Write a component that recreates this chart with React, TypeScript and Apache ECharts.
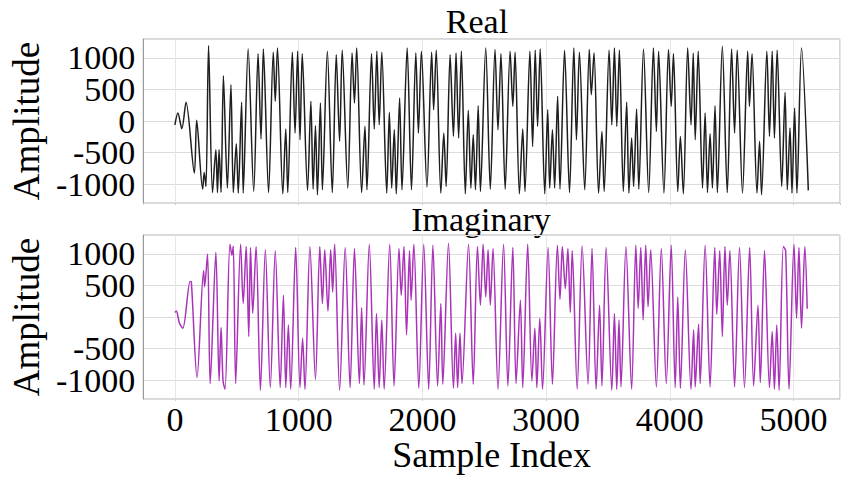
import React, { useEffect, useRef } from "react";
import * as echarts from "echarts";

// Real part: sample index / amplitude (extrema)
const realIdx = [0, 24, 56, 90, 157, 176, 224, 237, 251, 272, 304, 331, 344, 357, 373, 392, 424, 453, 472, 496, 512, 539, 552, 592, 637, 672, 696, 715, 757, 795, 811, 829, 872, 896, 912, 949, 971, 992, 1011, 1029, 1072, 1099, 1117, 1136, 1152, 1176, 1192, 1232, 1272, 1304, 1331, 1352, 1397, 1432, 1451, 1469, 1509, 1536, 1552, 1589, 1611, 1632, 1651, 1672, 1712, 1733, 1752, 1773, 1789, 1816, 1835, 1877, 1912, 1947, 1968, 1992, 2037, 2075, 2091, 2112, 2149, 2173, 2192, 2224, 2251, 2272, 2293, 2315, 2347, 2371, 2392, 2411, 2429, 2451, 2469, 2512, 2549, 2587, 2611, 2635, 2669, 2709, 2731, 2749, 2784, 2811, 2829, 2869, 2891, 2912, 2931, 2952, 2989, 3013, 3029, 3051, 3069, 3093, 3112, 3149, 3189, 3224, 3245, 3269, 3312, 3349, 3365, 3387, 3424, 3451, 3469, 3509, 3531, 3552, 3571, 3592, 3624, 3651, 3669, 3691, 3707, 3731, 3749, 3787, 3829, 3867, 3891, 3909, 3952, 3989, 4011, 4029, 4064, 4085, 4109, 4144, 4171, 4189, 4205, 4229, 4264, 4285, 4304, 4325, 4344, 4365, 4384, 4424, 4464, 4499, 4523, 4544, 4587, 4629, 4643, 4664, 4704, 4725, 4741, 4784, 4805, 4827, 4845, 4867, 4904, 4931, 4949, 4971, 4987, 5008, 5027, 5064, 5119];
const realAmp = [-60, 126, -122, 296, -826, 10, -1080, -815, -1037, 1195, -1133, -456, -1133, -456, -1133, 719, -1064, 576, -1133, -360, -1143, 296, -1143, 1142, -1117, 1068, -286, 1142, -1133, 1089, 312, 1158, -1154, -127, -1133, 1089, -191, 1105, -297, 1068, -1101, 312, -1080, -74, -1170, 285, -1090, 1105, -1133, 1052, -323, 1121, -1064, 1079, 285, 1158, -1133, -85, -1090, 1068, -127, 1105, -59, 1089, -1143, 137, -1064, -138, -1154, 364, -1090, 1158, -1090, 1079, -191, 1105, -1048, 1089, 179, 1121, -1143, -191, -1037, 1052, -244, 1079, -270, 1105, -1154, 169, -1064, -217, -1090, 243, -1117, 1158, -1080, 1132, -138, 1068, -1080, 1105, 232, 1089, -1154, -127, -1117, 1105, -403, 1121, -85, 1142, -1154, 179, -1064, -138, -1064, 391, -1080, 1121, -1133, 1158, -297, 1089, -1090, 1132, 417, 1079, -1143, -165, -1117, 1121, -59, 1158, -85, 1121, -1117, 296, -1143, -270, -1037, 190, -1080, 1142, -1133, 1158, -165, 1105, -1143, 1132, 232, 1068, -1117, -244, -1154, 1158, -59, 1079, -297, 1105, -1064, 126, -1133, -201, -1064, 243, -1133, 1184, -1133, 1142, -191, 1121, -1143, 1105, 232, 1068, -1143, -323, -1170, 1105, -244, 1105, -270, 1121, -1037, 454, -1090, -112, -1143, 206, -1143, 1158, -1100];

// Imaginary part: sample index / amplitude
const imagIdx = [0, 11, 37, 64, 123, 133, 179, 232, 240, 264, 285, 331, 357, 373, 389, 405, 445, 461, 472, 491, 531, 552, 576, 597, 611, 629, 656, 691, 731, 771, 811, 851, 877, 896, 917, 936, 976, 1011, 1032, 1051, 1091, 1136, 1171, 1192, 1211, 1237, 1259, 1275, 1291, 1331, 1376, 1416, 1451, 1491, 1509, 1528, 1571, 1611, 1629, 1651, 1672, 1691, 1736, 1771, 1811, 1829, 1851, 1872, 1896, 1909, 1931, 1971, 2011, 2051, 2085, 2123, 2149, 2165, 2211, 2251, 2269, 2285, 2304, 2320, 2373, 2411, 2445, 2469, 2491, 2512, 2531, 2549, 2571, 2611, 2656, 2691, 2731, 2757, 2792, 2811, 2851, 2885, 2909, 2925, 2949, 2971, 3016, 3051, 3091, 3112, 3131, 3155, 3176, 3195, 3211, 3251, 3291, 3339, 3371, 3404, 3432, 3451, 3485, 3531, 3552, 3571, 3589, 3605, 3645, 3691, 3725, 3744, 3765, 3784, 3805, 3824, 3845, 3891, 3931, 3971, 4011, 4043, 4064, 4085, 4125, 4171, 4192, 4205, 4232, 4245, 4285, 4325, 4363, 4379, 4403, 4424, 4445, 4464, 4485, 4523, 4563, 4603, 4645, 4677, 4712, 4731, 4765, 4805, 4827, 4845, 4864, 4883, 4917, 4936, 4963, 5003, 5024, 5043, 5064, 5091, 5110];
const imagAmp = [73, 94, -99, -178, 564, 554, -961, 737, 480, 998, -1055, 1024, -1014, -167, -1014, -1144, 1155, 980, 1120, -1055, 1155, 214, 1118, -308, 1102, 57, 1118, -1160, 1066, -1118, 1050, -1118, 345, -1118, -126, -1144, 1102, -1118, -335, -1144, 1118, -988, 1118, 214, 1066, 94, 1066, 397, 1155, -1160, 1102, -1118, 1087, -1055, 146, -1080, 1155, -1144, 57, -1118, -47, -1144, 1155, -1092, 1087, 345, 1118, -282, 1050, 266, 1155, -1129, 1155, -1144, 1139, -1092, 214, -1066, 1170, -1129, -256, -1118, -256, -1055, 1155, -1066, 1118, 188, 1155, 319, 1066, 188, 1087, -1144, 1155, -1092, 1102, -1055, 266, -1118, 1155, -1014, -178, -1118, -21, -1144, 1102, -1066, 1139, 282, 1118, 450, 1087, 73, 1050, -1144, 1129, -1066, 1087, -1144, 188, -1092, 1102, -1160, 57, -1144, -47, -1108, 1118, -1144, 1139, 136, 1102, -47, 1139, 162, 1066, -1108, 1087, -1055, 1139, -1118, 319, -1129, 1066, -1144, -204, -1108, -115, -1055, 1139, -1108, 1102, 42, 1050, -308, 1118, 188, 1050, -1108, 1100, -1118, 1102, -1092, 188, -1040, 1050, -1118, -230, -1144, -126, -1160, 1118, 1050, -1144, 1155, -21, 1102, -178, 1118, 130];

const yTicks = [-1000, -500, 0, 500, 1000];
const xTicks = [0, 1000, 2000, 3000, 4000, 5000];
const panelTitles = ["Real", "Imaginary"];
const xName = "Sample Index";
const yName = "Amplitude";

const FONT = "Liberation Serif";

export default function App() {
  const ref = useRef<HTMLDivElement>(null);
  useEffect(() => {
    if (!ref.current) return;
    const chart = echarts.init(ref.current, undefined, { renderer: "svg" });
    const realData = realIdx.map((x, i) => [x, realAmp[i]]);
    const imagData = imagIdx.map((x, i) => [x, imagAmp[i]]);
    const grids = [
      { left: 140, right: 4, top: 39, height: 164 },
      { left: 140, right: 4, top: 235, height: 164 },
    ].map((g) => ({ ...g, show: true, borderColor: "#b0b0b0", borderWidth: 1, backgroundColor: "#fff" }));
    const mkX = (gi: number) => ({
      type: "value",
      gridIndex: gi,
      min: -256,
      max: 5375,
      name: gi === 1 ? xName : "",
      nameLocation: "middle",
      nameGap: 35,
      nameTextStyle: { fontFamily: FONT, fontSize: 36, color: "#000" },
      axisLine: { show: false, onZero: false },
      axisTick: { show: true, length: 2, lineStyle: { color: "#ccc" } },
      axisLabel: {
        show: gi === 1,
        fontFamily: FONT,
        fontSize: 34,
        color: "#000",
        margin: 3,
        showMinLabel: false,
        showMaxLabel: false,
        formatter: (v: number) => (xTicks.includes(v) ? String(v) : ""),
      },
      splitLine: { show: true, lineStyle: { color: "#e6e6e6", width: 1 } },
    });
    const mkY = (gi: number) => ({
      type: "value",
      gridIndex: gi,
      min: -1300,
      max: 1300,
      name: yName,
      nameLocation: "middle",
      nameRotate: 90,
      nameGap: 94,
      nameTextStyle: { fontFamily: FONT, fontSize: 37, color: "#000" },
      axisLine: { show: true, onZero: false, lineStyle: { color: "#999" } },
      axisTick: { show: false },
      axisLabel: {
        fontFamily: FONT,
        fontSize: 34,
        lineHeight: 30,
        color: "#000",
        margin: 8,
        showMinLabel: false,
        showMaxLabel: false,
        formatter: (v: number) => (yTicks.includes(v) ? String(v) : ""),
      },
      splitLine: { show: true, lineStyle: { color: "#dcdcdc", width: 1 } },
    });
    chart.setOption({
      animation: false,
      backgroundColor: "#fff",
      grid: grids,
      xAxis: [mkX(0), mkX(1)],
      yAxis: [mkY(0), mkY(1)],
      graphic: [
        {
          type: "text",
          x: 477,
          y: 21,
          style: { text: panelTitles[0], fontFamily: FONT, fontSize: 34, fill: "#000", textAlign: "center", textVerticalAlign: "middle" },
        },
        {
          type: "text",
          x: 481,
          y: 219,
          style: { text: panelTitles[1], fontFamily: FONT, fontSize: 34, fill: "#000", textAlign: "center", textVerticalAlign: "middle" },
        },
      ],
      series: [
        {
          type: "line",
          xAxisIndex: 0,
          yAxisIndex: 0,
          data: realData,
          showSymbol: false,
          smooth: 0.3,
          lineStyle: { color: "#1e1e1e", width: 1.5 },
        },
        {
          type: "line",
          xAxisIndex: 1,
          yAxisIndex: 1,
          data: imagData,
          showSymbol: false,
          smooth: 0.3,
          lineStyle: { color: "#a934b8", width: 1.5 },
        },
      ],
    });
    return () => chart.dispose();
  }, []);
  return <div ref={ref} style={{ position: "absolute", left: 0, top: 0, width: 844, height: 477 }} />;
}
